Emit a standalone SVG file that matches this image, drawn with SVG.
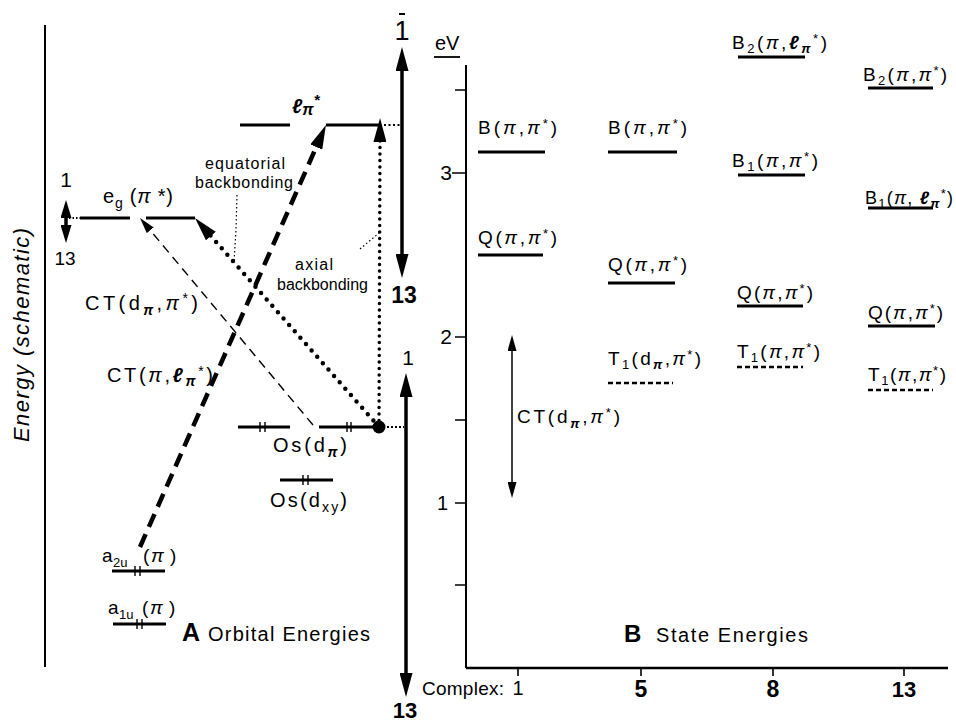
<svg xmlns="http://www.w3.org/2000/svg" width="956" height="723" viewBox="0 0 956 723">
<defs>
<style>
text{font-family:"Liberation Sans",Arial,sans-serif;fill:#000}
.i{font-style:italic}
.b{font-weight:bold}
.lv{stroke:#000;stroke-width:3.2;fill:none}
.dl{stroke:#000;stroke-width:2.5;stroke-dasharray:5 3;fill:none}
.e{stroke:#000;stroke-width:1.4;fill:none}
.ax{stroke:#000;stroke-width:2;fill:none}
.tk{stroke:#000;stroke-width:1.6;fill:none}
.lead{stroke:#000;stroke-width:1.2;stroke-dasharray:1.5 2.5;fill:none}
.arr{stroke:#000;stroke-width:3.5;fill:none}
</style>
<marker id="big" markerUnits="userSpaceOnUse" markerWidth="24" markerHeight="13" viewBox="0 0 24 13" refX="6" refY="6.5" orient="auto-start-reverse"><path d="M0,0 L24,6.5 L0,13 z" fill="#000"/></marker>
<marker id="mid" markerUnits="userSpaceOnUse" markerWidth="18" markerHeight="11" viewBox="0 0 18 11" refX="4" refY="5.5" orient="auto-start-reverse"><path d="M0,0 L18,5.5 L0,11 z" fill="#000"/></marker>
<marker id="thin" markerUnits="userSpaceOnUse" markerWidth="16" markerHeight="9" viewBox="0 0 16 9" refX="4" refY="4.5" orient="auto-start-reverse"><path d="M0,0 L16,4.5 L0,9 z" fill="#000"/></marker>
</defs>
<rect width="956" height="723" fill="#fff"/>

<!-- Panel A axis -->
<g id="energy-axis">
<line class="ax" x1="45" y1="25" x2="45" y2="667"/>
<text class="i" transform="translate(29,335) rotate(-90)" text-anchor="middle" font-size="22" textLength="214">Energy (schematic)</text>
</g>

<!-- Panel A orbitals -->
<g id="eg">
<line class="lv" x1="80" y1="218" x2="130" y2="218"/>
<line class="lv" x1="146" y1="218" x2="195" y2="218"/>
<text x="103" y="203" font-size="20" textLength="70">e<tspan dy="5" font-size="14">g</tspan><tspan dy="-5"> (</tspan><tspan class="i">π</tspan> *)</text>
</g>
<g id="eg-shift">
<line class="arr" x1="66" y1="214" x2="66" y2="229" marker-start="url(#mid)" marker-end="url(#mid)"/>
<line x1="69" y1="218" x2="80" y2="218" stroke="#000" stroke-width="2" stroke-dasharray="1.5 2"/>
<text x="66" y="187" font-size="21" text-anchor="middle">1</text>
<text x="65" y="265" font-size="19" text-anchor="middle">13</text>
</g>
<g id="lpi">
<line class="lv" x1="240" y1="125" x2="290" y2="125"/>
<line class="lv" x1="326" y1="125" x2="381" y2="125"/>
<text x="292" y="113" font-size="20" class="b i">ℓ<tspan dy="2" font-size="16">π</tspan><tspan dy="-10" font-size="15">*</tspan></text>
</g>
<g id="osdpi">
<line class="lv" x1="238" y1="427" x2="290" y2="427"/>
<line class="lv" x1="319" y1="427" x2="379" y2="427"/>
<path class="e" d="M260,422v10M265,422v10M347,422v10M351,422v10"/>
<circle cx="379" cy="427" r="6.5" fill="#000"/>
<text x="273" y="452" font-size="20" textLength="74">Os(d<tspan dy="5" font-size="14" class="i b">π</tspan><tspan dy="-5">)</tspan></text>
</g>
<g id="osdxy">
<line class="lv" x1="280" y1="480" x2="333" y2="480"/>
<path class="e" d="M303,475v10M308,475v10"/>
<text x="270" y="507" font-size="20" textLength="77">Os(d<tspan dy="5" font-size="14">xy</tspan><tspan dy="-5">)</tspan></text>
</g>
<g id="a2u">
<line class="lv" x1="112" y1="571" x2="165" y2="571"/>
<path class="e" d="M135,566v10M140,566v10"/>
<text y="562" font-size="19"><tspan x="102">a</tspan><tspan x="113" dy="5" font-size="13">2u</tspan><tspan x="143" dy="-5">(</tspan><tspan x="151" class="i">π</tspan><tspan x="170">)</tspan></text>
</g>
<g id="a1u">
<line class="lv" x1="113" y1="624" x2="166" y2="624"/>
<path class="e" d="M137,619v10M142,619v10"/>
<text y="614" font-size="19"><tspan x="108">a</tspan><tspan x="119" dy="5" font-size="13">1u</tspan><tspan x="142" dy="-5">(</tspan><tspan x="150" class="i">π</tspan><tspan x="169">)</tspan></text>
</g>
<g id="title-a">
<text x="182" y="641" font-size="25" class="b">A</text>
<text x="208" y="641" font-size="20" textLength="162">Orbital Energies</text>
</g>
<g id="labels-a">
<text x="205" y="169" font-size="16" textLength="80">equatorial</text>
<text x="195" y="188" font-size="16" textLength="98">backbonding</text>
<text x="295" y="270" font-size="16" textLength="38">axial</text>
<text x="277" y="290" font-size="16" textLength="91">backbonding</text>
<text x="85" y="310" font-size="20" textLength="113">CT(d<tspan dy="5" font-size="14" class="i b">π</tspan><tspan dy="-5">,</tspan><tspan class="i">π</tspan><tspan dy="-7" font-size="14">*</tspan><tspan dy="7">)</tspan></text>
<text x="107" y="382" font-size="20" textLength="106">CT(<tspan class="i">π</tspan>,<tspan class="i b">ℓ</tspan><tspan dy="4" font-size="14" class="i b">π</tspan><tspan dy="-10" font-size="14">*</tspan><tspan dy="6">)</tspan></text>
</g>

<!-- Complex range arrows -->
<g id="range-upper">
<line class="arr" x1="402" y1="65" x2="402" y2="260" marker-start="url(#big)" marker-end="url(#big)"/>
<line x1="399" y1="14" x2="405" y2="14" stroke="#000" stroke-width="2"/>
<text x="402" y="40" font-size="27" text-anchor="middle">1</text>
<text x="404" y="303" font-size="23" class="b" text-anchor="middle">13</text>
</g>
<g id="range-lower">
<line class="arr" x1="406" y1="391" x2="406" y2="679" marker-start="url(#big)" marker-end="url(#big)"/>
<text x="408" y="365" font-size="21" text-anchor="middle">1</text>
<text x="405" y="718" font-size="22" class="b" text-anchor="middle">13</text>
</g>

<!-- Connectors -->
<g id="connectors">
<line x1="140" y1="547" x2="318.7" y2="141.5" stroke="#000" stroke-width="4.5" stroke-dasharray="14 8" marker-end="url(#big)"/>
<line x1="313" y1="425" x2="147.7" y2="227.2" stroke="#000" stroke-width="1.4" stroke-dasharray="9 6" marker-end="url(#thin)"/>
<line x1="379" y1="427" x2="206.9" y2="231.5" stroke="#000" stroke-width="4.5" stroke-linecap="round" stroke-dasharray="0 8.5" marker-end="url(#big)"/>
<line x1="379" y1="427" x2="380" y2="136" stroke="#000" stroke-width="3.5" stroke-linecap="round" stroke-dasharray="0 6.5" marker-end="url(#big)"/>
<line x1="387" y1="427" x2="404" y2="427" stroke="#000" stroke-width="2" stroke-dasharray="2 2"/>
<line x1="384" y1="125" x2="400" y2="125" stroke="#000" stroke-width="2" stroke-dasharray="2 2.5"/>
<polyline class="lead" points="237,195 236,230 234,262"/>
<line class="lead" x1="360" y1="249" x2="379" y2="233"/>
</g>

<!-- Panel B axes -->
<g id="state-axes">
<line class="ax" x1="466" y1="65" x2="466" y2="668"/>
<line x1="466" y1="668" x2="948" y2="668" stroke="#000" stroke-width="2.5"/>
<path class="tk" d="M455,90H466M452,173H466M455,337H466M455,420H466M455,503H466M455,585H466"/>
<path class="tk" d="M518,668v8M641,668v8M773,668v8M904,668v8"/>
<text x="435" y="50" font-size="20">eV</text>
<line x1="434" y1="57" x2="460" y2="57" stroke="#000" stroke-width="1.8"/>
<text x="452" y="180" font-size="21" text-anchor="end">3</text>
<text x="452" y="344" font-size="21" text-anchor="end">2</text>
<text x="448" y="510" font-size="20" text-anchor="end">1</text>
<text x="422" y="695" font-size="19" textLength="82">Complex:</text>
<text x="518" y="695" font-size="20" text-anchor="middle">1</text>
<text x="641" y="697" font-size="23" class="b" text-anchor="middle">5</text>
<text x="773" y="697" font-size="23" class="b" text-anchor="middle">8</text>
<text x="904" y="697" font-size="22" class="b" text-anchor="middle">13</text>
<text x="624" y="642" font-size="24" class="b">B</text>
<text x="656" y="642" font-size="20" textLength="152">State Energies</text>
</g>

<!-- Complex 1 -->
<g id="c1-B">
<line class="lv" x1="478" y1="152" x2="545" y2="152"/>
<text x="478" y="134" font-size="19" textLength="79">B(<tspan class="i">π</tspan>,<tspan class="i">π</tspan><tspan dy="-6" font-size="13">*</tspan><tspan dy="6">)</tspan></text>
</g>
<g id="c1-Q">
<line class="lv" x1="478" y1="255" x2="543" y2="255"/>
<text x="478" y="244" font-size="19" textLength="79">Q(<tspan class="i">π</tspan>,<tspan class="i">π</tspan><tspan dy="-6" font-size="13">*</tspan><tspan dy="6">)</tspan></text>
</g>
<g id="c1-CT">
<line x1="512" y1="347" x2="512" y2="486" stroke="#000" stroke-width="1.5" marker-start="url(#thin)" marker-end="url(#thin)"/>
<text x="517" y="423" font-size="19" textLength="103">CT(d<tspan dy="5" font-size="13" class="i b">π</tspan><tspan dy="-5">,</tspan><tspan class="i">π</tspan><tspan dy="-6" font-size="13">*</tspan><tspan dy="6">)</tspan></text>
</g>

<!-- Complex 5 -->
<g id="c5-B">
<line class="lv" x1="608" y1="152" x2="677" y2="152"/>
<text x="608" y="134" font-size="19" textLength="79">B(<tspan class="i">π</tspan>,<tspan class="i">π</tspan><tspan dy="-6" font-size="13">*</tspan><tspan dy="6">)</tspan></text>
</g>
<g id="c5-Q">
<line class="lv" x1="608" y1="283" x2="675" y2="283"/>
<text x="608" y="271" font-size="19" textLength="79">Q(<tspan class="i">π</tspan>,<tspan class="i">π</tspan><tspan dy="-6" font-size="13">*</tspan><tspan dy="6">)</tspan></text>
</g>
<g id="c5-T1">
<line class="dl" x1="608" y1="383" x2="673" y2="383"/>
<text x="608" y="365" font-size="19" textLength="93">T<tspan dy="4" font-size="13">1</tspan><tspan dy="-4">(d</tspan><tspan dy="4" font-size="13" class="i b">π</tspan><tspan dy="-4">,</tspan><tspan class="i">π</tspan><tspan dy="-6" font-size="13">*</tspan><tspan dy="6">)</tspan></text>
</g>

<!-- Complex 8 -->
<g id="c8-B2">
<line class="lv" x1="738" y1="57" x2="805" y2="57"/>
<text x="732" y="49" font-size="19" textLength="95">B<tspan dy="4" font-size="13">2</tspan><tspan dy="-4">(</tspan><tspan class="i">π</tspan>,<tspan class="i b">ℓ</tspan><tspan dy="4" font-size="13" class="i b">π</tspan><tspan dy="-10" font-size="13">*</tspan><tspan dy="6">)</tspan></text>
</g>
<g id="c8-B1">
<line class="lv" x1="738" y1="175" x2="805" y2="175"/>
<text x="732" y="167" font-size="19" textLength="86">B<tspan dy="4" font-size="13">1</tspan><tspan dy="-4">(</tspan><tspan class="i">π</tspan>,<tspan class="i">π</tspan><tspan dy="-6" font-size="13">*</tspan><tspan dy="6">)</tspan></text>
</g>
<g id="c8-Q">
<line class="lv" x1="737" y1="306" x2="803" y2="306"/>
<text x="737" y="299" font-size="19" textLength="76">Q(<tspan class="i">π</tspan>,<tspan class="i">π</tspan><tspan dy="-6" font-size="13">*</tspan><tspan dy="6">)</tspan></text>
</g>
<g id="c8-T1">
<line class="dl" x1="737" y1="367" x2="803" y2="367"/>
<text x="737" y="358" font-size="19" textLength="83">T<tspan dy="4" font-size="13">1</tspan><tspan dy="-4">(</tspan><tspan class="i">π</tspan>,<tspan class="i">π</tspan><tspan dy="-6" font-size="13">*</tspan><tspan dy="6">)</tspan></text>
</g>

<!-- Complex 13 -->
<g id="c13-B2">
<line class="lv" x1="868" y1="88" x2="933" y2="88"/>
<text x="863" y="81" font-size="19" textLength="84">B<tspan dy="4" font-size="13">2</tspan><tspan dy="-4">(</tspan><tspan class="i">π</tspan>,<tspan class="i">π</tspan><tspan dy="-6" font-size="13">*</tspan><tspan dy="6">)</tspan></text>
</g>
<g id="c13-B1">
<line class="lv" x1="868" y1="208" x2="933" y2="208"/>
<text x="865" y="204" font-size="18" textLength="88">B<tspan dy="4" font-size="13">1</tspan><tspan dy="-4">(</tspan><tspan class="i">π</tspan>, <tspan class="i b">ℓ</tspan><tspan dy="4" font-size="13" class="i b">π</tspan><tspan dy="-10" font-size="13">*</tspan><tspan dy="6">)</tspan></text>
</g>
<g id="c13-Q">
<line class="lv" x1="868" y1="326" x2="935" y2="326"/>
<text x="868" y="319" font-size="19" textLength="75">Q(<tspan class="i">π</tspan>,<tspan class="i">π</tspan><tspan dy="-6" font-size="13">*</tspan><tspan dy="6">)</tspan></text>
</g>
<g id="c13-T1">
<line class="dl" x1="868" y1="390" x2="933" y2="390"/>
<text x="868" y="381" font-size="19" textLength="78">T<tspan dy="4" font-size="13">1</tspan><tspan dy="-4">(</tspan><tspan class="i">π</tspan>,<tspan class="i">π</tspan><tspan dy="-6" font-size="13">*</tspan><tspan dy="6">)</tspan></text>
</g>
</svg>
